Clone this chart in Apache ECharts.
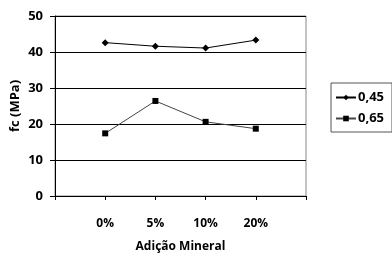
<!DOCTYPE html>
<html><head><meta charset="utf-8">
<script src="https://cdn.jsdelivr.net/npm/echarts@6/dist/echarts.min.js"></script>
<style>html,body{margin:0;padding:0;background:#fff}#c{width:392px;height:254px}</style>
</head><body><div id="c"></div>
<script>
const categories = ['', '0%', '5%', '10%', '20%', ''];
const s045 = [null, 42.6, 41.6, 41.1, 43.3, null];
const s065 = [null, 17.4, 26.4, 20.6, 18.7, null];
const seriesNames = ['0,45', '0,65'];
const yTicks = [0, 10, 20, 30, 40, 50];

const font = 'Open Sans';
const chart = echarts.init(document.getElementById('c'));
chart.setOption({
  animation: false,
  backgroundColor: '#fff',
  grid: {left: 55, right: 86, top: 16, bottom: 58, show: true, borderColor: '#888', borderWidth: 1,
    backgroundColor: 'transparent', containLabel: false, outerBoundsMode: 'none'},
  legend: {
    orient: 'vertical', left: 331, top: 83, itemWidth: 20, itemHeight: 7, itemGap: 8,
    padding: [8, 8, 7, 4], borderColor: '#555', borderWidth: 1,
    textStyle: {fontFamily: font, fontWeight: 'bold', fontSize: 13, color: '#000', padding: [0, 0, 0, -3]},
    data: seriesNames
  },
  xAxis: {
    type: 'category', data: categories, boundaryGap: false,
    name: 'Adição Mineral', nameLocation: 'middle', nameGap: 45, nameMoveOverlap: false,
    nameTextStyle: {fontFamily: font, fontWeight: 'bold', fontSize: 12, color: '#000'},
    axisLine: {lineStyle: {color: '#000'}},
    axisTick: {show: true, length: 4, lineStyle: {color: '#000'}, interval: 0},
    axisLabel: {fontFamily: font, fontWeight: 'bold', fontSize: 12, color: '#000', margin: 22, interval: 0},
    splitLine: {show: false}
  },
  yAxis: {
    type: 'value', min: 0, max: 50, interval: 10,
    name: 'fc (MPa)', nameLocation: 'middle', nameGap: 33, nameRotate: 90, nameMoveOverlap: false,
    nameTextStyle: {fontFamily: font, fontWeight: 'bold', fontSize: 13, color: '#000'},
    axisLine: {show: true, lineStyle: {color: '#000'}},
    axisTick: {show: true, length: 5, lineStyle: {color: '#000'}},
    axisLabel: {fontFamily: font, fontWeight: 'bold', fontSize: 13, color: '#000', margin: 12,
      formatter: v => yTicks.includes(v) ? String(v) : ''},
    splitLine: {show: true, lineStyle: {color: '#000', width: 1}}
  },
  series: [
    {name: seriesNames[0], type: 'line', data: s045, symbol: 'diamond', symbolSize: 7,
      lineStyle: {color: '#000', width: 1}, itemStyle: {color: '#000'}},
    {name: seriesNames[1], type: 'line', data: s065, symbol: 'rect', symbolSize: 6,
      lineStyle: {color: '#444', width: 1}, itemStyle: {color: '#000'}}
  ]
});
</script></body></html>
